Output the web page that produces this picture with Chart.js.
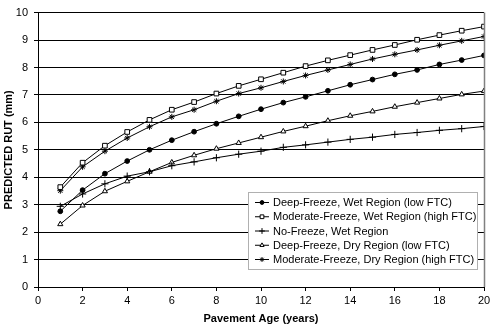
<!DOCTYPE html>
<html>
<head>
<meta charset="utf-8">
<script src="https://cdn.jsdelivr.net/npm/chart.js@4"></script>
<style>
html,body{margin:0;padding:0;background:#fff;}
#wrap{width:495px;height:328px;}
</style>
</head>
<body>
<div id="wrap"><canvas id="c" width="495" height="328"></canvas></div>
<script>
const years = [1,2,3,4,5,6,7,8,9,10,11,12,13,14,15,16,17,18,19,20];
const seriesLabels = [
  'Deep-Freeze, Wet Region (low FTC)',
  'Moderate-Freeze, Wet Region (high FTC)',
  'No-Freeze, Wet Region',
  'Deep-Freeze, Dry Region (low FTC)',
  'Moderate-Freeze, Dry Region (high FTC)'
];
const deepWet = [2.76,3.53,4.13,4.59,5.00,5.35,5.66,5.95,6.22,6.48,6.72,6.93,7.15,7.37,7.56,7.75,7.91,8.11,8.27,8.44];
const modWet  = [3.64,4.53,5.15,5.65,6.09,6.46,6.74,7.05,7.33,7.57,7.81,8.05,8.26,8.45,8.64,8.82,9.01,9.18,9.34,9.49];
const noWet   = [2.94,3.39,3.76,4.04,4.20,4.42,4.56,4.71,4.84,4.95,5.09,5.18,5.28,5.38,5.46,5.56,5.63,5.71,5.77,5.85];
const deepDry = [2.29,2.97,3.49,3.85,4.20,4.54,4.80,5.04,5.25,5.46,5.67,5.86,6.06,6.24,6.40,6.57,6.72,6.87,7.02,7.14];
const modDry  = [3.51,4.38,4.95,5.43,5.84,6.20,6.46,6.77,7.05,7.26,7.49,7.71,7.91,8.11,8.31,8.48,8.64,8.81,8.97,9.13];
const xTicks = [0,2,4,6,8,10,12,14,16,18,20];
const yTicks = [0,1,2,3,4,5,6,7,8,9,10];

const FONT = "'Liberation Sans', Arial, sans-serif";
const styles = [
  {pointStyle:'circle', radius:2.4, bg:'#000'},
  {pointStyle:'rect', radius:3.3, bg:'#fff'},
  {pointStyle:'cross', radius:3.6, bg:'#000'},
  {pointStyle:'triangle', radius:3.0, bg:'#fff'},
  {pointStyle:'star', radius:3.0, bg:'#000'}
];
const allData = [deepWet, modWet, noWet, deepDry, modDry];
const datasets = allData.map((arr,i)=>({
  label: seriesLabels[i],
  data: arr.map((v,j)=>({x:years[j], y:v})),
  borderColor:'#000',
  borderWidth:1,
  backgroundColor: styles[i].bg,
  pointStyle: styles[i].pointStyle,
  pointRadius: styles[i].radius,
  pointBorderColor:'#000',
  pointBorderWidth:1,
  pointBackgroundColor: styles[i].bg,
  tension:0,
  fill:false
}));

const extras = {
  id:'extras',
  afterDraw(chart){
    const ctx = chart.ctx, a = chart.chartArea;
    ctx.save();
    // right border
    ctx.strokeStyle = '#808080';
    ctx.lineWidth = 1.5;
    ctx.beginPath();
    ctx.moveTo(a.right+0.5, a.top);
    ctx.lineTo(a.right+0.5, a.bottom);
    ctx.stroke();
    // legend box
    const bx = 248.5, by = 192.5, bw = 229, bh = 77;
    ctx.fillStyle = '#fff';
    ctx.fillRect(bx, by, bw, bh);
    ctx.strokeStyle = '#b0b0b0';
    ctx.lineWidth = 1;
    ctx.strokeRect(bx, by, bw, bh);
    ctx.font = '11px ' + FONT;
    ctx.textBaseline = 'middle';
    ctx.textAlign = 'left';
    chart.data.datasets.forEach((ds,i)=>{
      const yy = 202.5 + i*14.25;
      ctx.strokeStyle = '#000';
      ctx.lineWidth = 1;
      ctx.beginPath();
      ctx.moveTo(255, yy);
      ctx.lineTo(269, yy);
      ctx.stroke();
      ctx.fillStyle = ds.pointBackgroundColor;
      ctx.strokeStyle = '#000';
      Chart.helpers.drawPoint(ctx, {pointStyle: ds.pointStyle, radius: ds.pointRadius*0.8, rotation:0, borderWidth:1}, 262, yy);
      ctx.fillStyle = '#000';
      ctx.fillText(ds.label, 273, yy+0.5);
    });
    ctx.restore();
  }
};

new Chart(document.getElementById('c'), {
  type:'line',
  data:{datasets},
  options:{
    responsive:false,
    animation:false,
    events:[],
    layout:{padding:{left:0,right:11,top:7,bottom:0}},
    plugins:{legend:{display:false}, tooltip:{enabled:false}},
    scales:{
      x:{
        type:'linear', min:0, max:20,
        afterBuildTicks(s){ s.ticks = xTicks.map(v=>({value:v})); },
        afterFit(s){ s.height = 41; },
        grid:{display:true, drawOnChartArea:false, drawTicks:true, tickLength:4, color:'#000'},
        border:{color:'#000', width:1},
        ticks:{color:'#000', font:{family:FONT, size:11}, padding:3, maxRotation:0},
        title:{display:true, text:'Pavement Age (years)', color:'#000', font:{family:FONT, size:11, weight:'bold'}, padding:{top:0,bottom:2}}
      },
      y:{
        type:'linear', min:0, max:10,
        afterBuildTicks(s){ s.ticks = yTicks.map(v=>({value:v})); },
        afterFit(s){ s.width = 38; },
        grid:{display:true, drawOnChartArea:true, drawTicks:true, tickLength:4, color:'#000', lineWidth:1},
        border:{color:'#000', width:1},
        ticks:{color:'#000', font:{family:FONT, size:11}, padding:6},
        title:{display:true, text:'PREDICTED RUT (mm)', color:'#000', font:{family:FONT, size:11, weight:'bold'}, padding:{top:2,bottom:0}}
      }
    }
  },
  plugins:[extras]
});
</script>
</body>
</html>
